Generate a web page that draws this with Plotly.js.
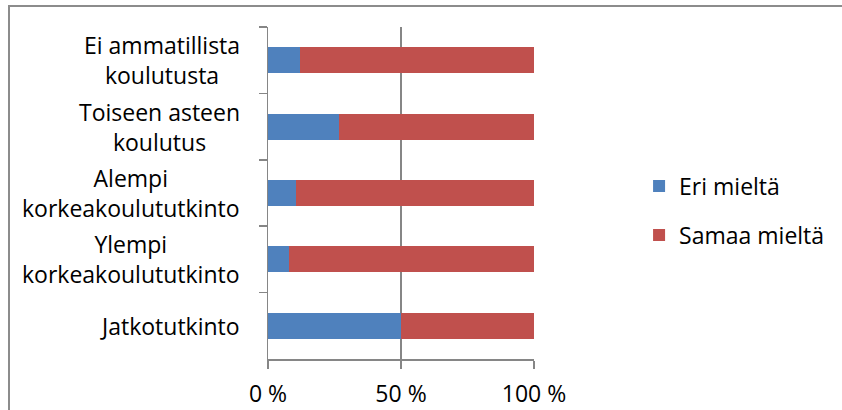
<!DOCTYPE html>
<html>
<head>
<meta charset="utf-8">
<script src="https://cdn.plot.ly/plotly-3.0.1.min.js"></script>
<style>
  html, body { margin: 0; padding: 0; background: #fff; overflow: hidden; }
  #wrap { position: relative; width: 842px; height: 410px; overflow: hidden; }
  #chart { position: absolute; left: 0; top: 0; width: 842px; height: 410px; }
  #frame { position: absolute; left: 8px; top: 5px; width: 900px; height: 500px;
           border: 2px solid #8c8c8c; pointer-events: none; }
</style>
</head>
<body>
<div id="wrap">
  <div id="chart"></div>
  <div id="frame"></div>
</div>
<script>
// Categories (top to bottom) and their displayed labels
const categories = [
  "Ei ammatillista koulutusta",
  "Toiseen asteen koulutus",
  "Alempi korkeakoulututkinto",
  "Ylempi korkeakoulututkinto",
  "Jatkotutkinto"
];
const categoryLabels = [
  "Ei ammatillista<br>koulutusta",
  "Toiseen asteen<br>koulutus",
  "Alempi<br>korkeakoulututkinto",
  "Ylempi<br>korkeakoulututkinto",
  "Jatkotutkinto"
];
// Series (percent)
const eriMielta   = [12.2, 26.6, 10.7, 7.8, 50.0];
const samaaMielta = [87.8, 73.4, 89.3, 92.2, 50.0];
const seriesNames = ["Eri mieltä", "Samaa mieltä"];
// X tick labels
const xTickVals = [0, 50, 100];
const xTickText = ["0 %", "50 %", "100 %"];

const FONT = "Open Sans, sans-serif";
const FS = 23;
const AXIS = "#868686";

const traces = [
  { type: "bar", orientation: "h", name: seriesNames[0], x: eriMielta, y: categories,
    marker: { color: "#4F81BD" }, legendgroup: "a", hoverinfo: "skip" },
  { type: "bar", orientation: "h", name: seriesNames[1], x: samaaMielta, y: categories,
    marker: { color: "#C0504D" }, legendgroup: "b", hoverinfo: "skip" }
];

const annotations = categories.map((c, i) => ({
  xref: "paper", yref: "y", x: -0.098, y: c, xanchor: "right", yanchor: "middle",
  text: categoryLabels[i], showarrow: false, align: "center", yshift: 0,
  font: { family: FONT, size: FS, color: "#000" }
}));

const layout = {
  width: 842, height: 410,
  margin: { l: 268, r: 308, t: 27, b: 51 },
  paper_bgcolor: "#fff", plot_bgcolor: "#fff",
  barmode: "stack", bargap: 0.61,
  font: { family: FONT, size: FS, color: "#000" },
  showlegend: true,
  legend: { x: 1.395, xanchor: "left", y: 0.447, yanchor: "middle",
            traceorder: "grouped", tracegroupgap: 16,
            font: { family: FONT, size: FS, color: "#000" } },
  xaxis: {
    range: [0, 100], tickvals: xTickVals, ticktext: xTickText,
    showgrid: true, gridcolor: AXIS, gridwidth: 1.5, zeroline: false,
    showline: true, linecolor: AXIS, linewidth: 1.5,
    ticks: "outside", ticklen: 8, tickcolor: AXIS, tickwidth: 1.5,
    ticklabelstandoff: 6, fixedrange: true
  },
  yaxis: {
    type: "category", categoryarray: categories, categoryorder: "array",
    autorange: "reversed", showticklabels: false, showgrid: false, zeroline: false,
    showline: true, linecolor: AXIS, linewidth: 1.5,
    ticks: "outside", tickson: "boundaries", ticklen: 8, tickcolor: AXIS, tickwidth: 1.5,
    fixedrange: true
  },
  annotations: annotations
};

Plotly.newPlot("chart", traces, layout, { displayModeBar: false, staticPlot: true });
</script>
</body>
</html>
